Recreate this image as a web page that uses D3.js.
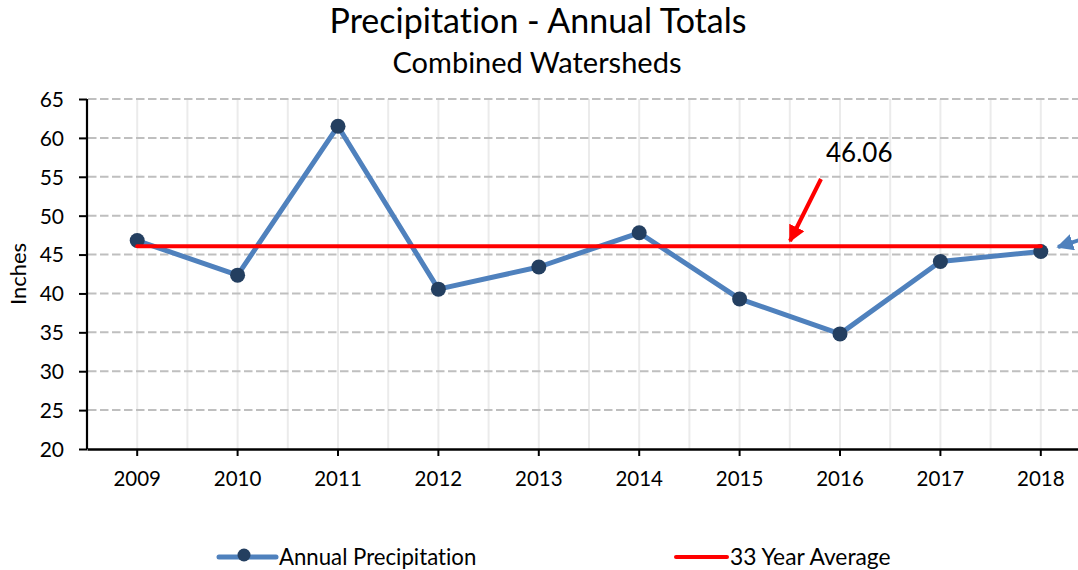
<!DOCTYPE html>
<html>
<head>
<meta charset="utf-8">
<script src="https://cdn.jsdelivr.net/npm/d3@7"></script>
<style>
  html, body { margin: 0; padding: 0; background: #fff; }
  svg { display: block; font-family: Lato, "Open Sans", sans-serif; }
  svg text { font-variant-ligatures: none; font-feature-settings: "liga" 0, "clig" 0; }
</style>
</head>
<body>
<svg id="chart" width="1078" height="570"></svg>
<script>
// ---- data ----
const years = ["2009","2010","2011","2012","2013","2014","2015","2016","2017","2018"];
const precipitation = [46.8, 42.35, 61.5, 40.55, 43.4, 47.8, 39.3, 34.8, 44.1, 45.4];
const average = 46.06;
const yTicks = [20, 25, 30, 35, 40, 45, 50, 55, 60, 65];
const titleText = "Precipitation - Annual Totals";
const subtitleText = "Combined Watersheds";
const yLabel = "Inches";
const seriesNames = ["Annual Precipitation", "33 Year Average"];
const avgLabel = "46.06";

// ---- layout ----
const W = 1078, H = 570;
const plot = { left: 87, right: 1091, top: 99, bottom: 449 };
const blue = "#4f81bd", navy = "#243f60", red = "#ff0000";

const svg = d3.select("#chart");

const x = d3.scaleBand().domain(years).range([plot.left, plot.right]).padding(0);
const cx = d => x(d) + x.bandwidth() / 2;
const y = d3.scaleLinear().domain([20, 65]).range([plot.bottom, plot.top]);

const defs = svg.append("defs");
function arrowMarker(id, color) {
  defs.append("marker").attr("id", id)
    .attr("viewBox", "0 0 10 10").attr("refX", 9).attr("refY", 5)
    .attr("markerWidth", 4.2).attr("markerHeight", 4.2)
    .attr("orient", "auto").attr("markerUnits", "strokeWidth")
    .append("path").attr("d", "M0,0 L10,5 L0,10 Z").attr("fill", color);
}
arrowMarker("arrRed", red);
arrowMarker("arrBlue", blue);

// vertical light gridlines (band edges and centers)
const vx = [];
years.forEach((yr) => { vx.push(cx(yr)); vx.push(x(yr) + x.bandwidth()); });
svg.append("g").selectAll("line").data(vx).join("line")
  .attr("x1", d => d).attr("x2", d => d)
  .attr("y1", plot.top).attr("y2", plot.bottom)
  .attr("stroke", "#ebebeb").attr("stroke-width", 2);

// horizontal dashed gridlines
svg.append("g").selectAll("line").data(yTicks.filter(t => t > 20)).join("line")
  .attr("x1", plot.left + 1).attr("x2", plot.right)
  .attr("y1", d => y(d)).attr("y2", d => y(d))
  .attr("stroke", "#bfbfbf").attr("stroke-width", 2)
  .attr("stroke-dasharray", "8.5,3.5");

// y axis
const yAxis = svg.append("g").attr("transform", `translate(${plot.left},0)`)
  .call(d3.axisLeft(y).tickValues(yTicks).tickSize(8).tickPadding(15).tickFormat(d3.format("d")));
yAxis.select(".domain").attr("stroke", "#000").attr("stroke-width", 2.2)
  .attr("d", `M0,${plot.top}V${plot.bottom}`);
yAxis.selectAll(".tick line").attr("stroke", "#000").attr("stroke-width", 2);
yAxis.selectAll(".tick text").attr("fill", "#000").attr("font-size", 21)
  .attr("font-family", "Lato, sans-serif").attr("dy", "0.35em");

// x axis
const xAxis = svg.append("g").attr("transform", `translate(0,${plot.bottom})`)
  .call(d3.axisBottom(x).tickSize(7).tickPadding(15).tickSizeOuter(0));
xAxis.select(".domain").attr("stroke", "#000").attr("stroke-width", 2.4);
xAxis.selectAll(".tick line").attr("stroke", "#000").attr("stroke-width", 2);
xAxis.selectAll(".tick text").attr("fill", "#000").attr("font-size", 20.5)
  .attr("font-family", "Lato, sans-serif");

// precipitation line
const pts = years.map((yr, i) => ({ yr, v: precipitation[i] }));
svg.append("path").datum(pts)
  .attr("fill", "none").attr("stroke", blue).attr("stroke-width", 5)
  .attr("stroke-linejoin", "round")
  .attr("d", d3.line().x(d => cx(d.yr)).y(d => y(d.v)));
svg.append("g").selectAll("circle").data(pts).join("circle")
  .attr("cx", d => cx(d.yr)).attr("cy", d => y(d.v)).attr("r", 7.5)
  .attr("fill", navy);

// average line
svg.append("line")
  .attr("x1", cx(years[0])).attr("x2", cx(years[years.length - 1]))
  .attr("y1", y(average)).attr("y2", y(average))
  .attr("stroke", red).attr("stroke-width", 4).attr("stroke-linecap", "round");

// annotation
svg.append("text").attr("x", 826).attr("y", 162)
  .attr("font-size", 26).attr("fill", "#000").text(avgLabel);
svg.append("line").attr("x1", 821).attr("y1", 179).attr("x2", 790).attr("y2", 241)
  .attr("stroke", red).attr("stroke-width", 4).attr("marker-end", "url(#arrRed)");
svg.append("line").attr("x1", 1095).attr("y1", 235).attr("x2", 1058).attr("y2", 247)
  .attr("stroke", blue).attr("stroke-width", 4).attr("marker-end", "url(#arrBlue)");

// titles
svg.append("text").attr("x", 538).attr("y", 33).attr("text-anchor", "middle")
  .attr("font-size", 34).attr("fill", "#000").text(titleText);
svg.append("text").attr("x", 537).attr("y", 73).attr("text-anchor", "middle")
  .attr("font-size", 29).attr("fill", "#000").text(subtitleText);

// y label
svg.append("text").attr("transform", "translate(26,274) rotate(-90)")
  .attr("text-anchor", "middle").attr("font-size", 22).attr("fill", "#000").text(yLabel);

// legend
const lg = svg.append("g");
lg.append("line").attr("x1", 219).attr("x2", 276).attr("y1", 557).attr("y2", 557)
  .attr("stroke", blue).attr("stroke-width", 5).attr("stroke-linecap", "round");
lg.append("circle").attr("cx", 244).attr("cy", 555).attr("r", 6.5).attr("fill", navy);
lg.append("text").attr("x", 279).attr("y", 565).attr("font-size", 22.2).attr("fill", "#000")
  .text(seriesNames[0]);
lg.append("line").attr("x1", 676).attr("x2", 727).attr("y1", 557).attr("y2", 557)
  .attr("stroke", red).attr("stroke-width", 4).attr("stroke-linecap", "round");
lg.append("text").attr("x", 730).attr("y", 565).attr("font-size", 22.8).attr("fill", "#000")
  .text(seriesNames[1]);
</script>
</body>
</html>
